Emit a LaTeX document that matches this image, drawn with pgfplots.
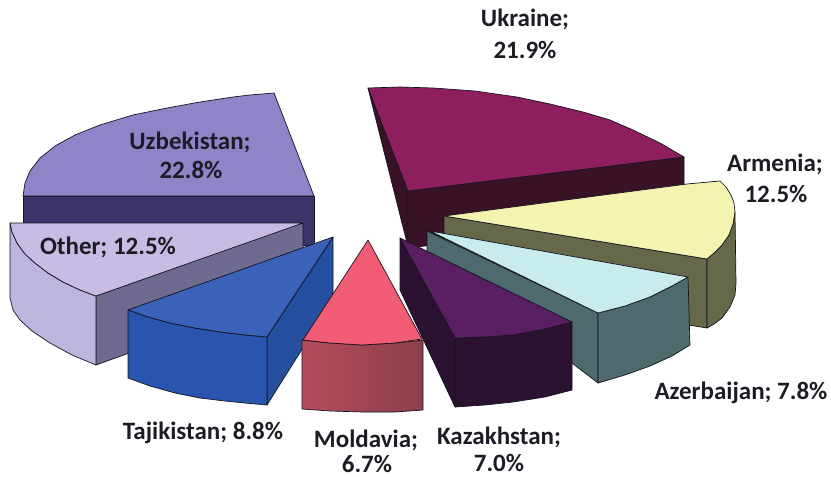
\documentclass[border=0pt]{standalone}
\usepackage{pgfplots}
\pgfplotsset{compat=1.18}
\usepackage{fontspec}
\setmainfont{Carlito}
\definecolor{edge}{HTML}{15131F}
\definecolor{uzt}{HTML}{8F84C8}\definecolor{uzs}{HTML}{3A3468}
\definecolor{ukt}{HTML}{8E1F5E}\definecolor{uks}{HTML}{3A1226}
\definecolor{art}{HTML}{F2F4B0}\definecolor{ars}{HTML}{66684A}
\definecolor{azt}{HTML}{C8ECEC}\definecolor{azs}{HTML}{4E6A6C}
\definecolor{kzt}{HTML}{5A1E62}\definecolor{kzs}{HTML}{2B1230}
\definecolor{mdt}{HTML}{F25C75}\definecolor{mdl}{HTML}{B54C5C}\definecolor{mdr}{HTML}{8B3F4A}
\definecolor{tjt}{HTML}{3A62B8}\definecolor{tjf}{HTML}{2A55AE}\definecolor{tjs}{HTML}{24509F}
\definecolor{ott}{HTML}{C8BCE4}\definecolor{otf}{HTML}{BEB4E0}\definecolor{ots}{HTML}{6E6A90}
\definecolor{lab}{HTML}{1C1C24}
\tikzset{lbl/.style={font=\fontsize{25}{28}\selectfont\bfseries,text=lab,inner sep=0pt,anchor=center}}
\begin{document}
\begin{tikzpicture}
\begin{axis}[hide axis,scale only axis,width=831pt,height=477pt,
  xmin=0,xmax=831,ymin=0,ymax=477,y dir=reverse,clip=false,
  every axis plot/.append style={no markers,draw=edge,line width=0.7pt,line join=round}]
% Uzbekistan
\addplot[fill=uzs] coordinates {(23,196)(314,196)(314,245)(23,245)} --cycle;
\addplot[fill=uzt] coordinates {(274,93)(250,95)(233,97)(200,102)(167,108)(133,115)(100,125)(75,135)(55,146)(40,158)(30,171)(25,183)(23,196)(314,196)} --cycle;
% Ukraine
\addplot[fill=uks] coordinates {(368,88)(408,191)(408,247)(405,235)} --cycle;
\addplot[fill=uks] coordinates {(408,191)(684,157)(684,215)(408,248)} --cycle;
\addplot[fill=ukt] coordinates {(368,88)(400,87)(433,88)(475,91)(517,97)(550,104)(583,112)(610,120)(633,130)(660,143)(684,157)(408,191)} --cycle;
% Armenia
\addplot[fill=ars] coordinates {(444,216)(707,259)(707,328)(444,285)} --cycle;
\addplot[fill=ars] coordinates {(707,259)(714,253)(722,245)(729,235)(733,224)(735,212)(736,283)(735,295)(730,307)(722,318)(714,324)(707,328)} --cycle;
\addplot[fill=art] coordinates {(444,216)(687,184)(720,181)(726,187)(731,195)(734,203)(735,212)(733,224)(729,235)(722,245)(714,253)(707,259)} --cycle;
% Azerbaijan
\addplot[fill=azs] coordinates {(427,231)(598,313)(598,383)(427,252)} --cycle;
\addplot[fill=azs] coordinates {(598,313)(625,306)(650,297)(672,286)(688,277)(690,345)(672,356)(650,366)(625,375)(598,383)} --cycle;
\addplot[fill=azt] coordinates {(430,231)(598,313)(625,306)(650,297)(672,286)(688,277)} --cycle;
% Other
\addplot[fill=ots] coordinates {(96,296)(298,224)(303,223)(303,290)(96,365)} --cycle;
\addplot[fill=otf] coordinates {(10,223)(12,232)(17,243)(25,254)(35,263)(48,273)(63,282)(80,290)(96,296)(96,365)(72,355)(50,343)(32,331)(20,320)(13,310)(10,298)} --cycle;
\addplot[fill=ott] coordinates {(10,223)(303,223)(96,296)(80,290)(63,282)(48,273)(35,263)(25,254)(17,243)(12,232)} --cycle;
% Tajikistan
\addplot[fill=tjs] coordinates {(267,337)(333,237)(333,300)(267,405)} --cycle;
\addplot[fill=tjf] coordinates {(128,310)(148,317)(170,323)(195,328)(220,332)(245,335)(267,337)(267,405)(245,403)(225,401)(200,398)(175,393)(150,386)(128,378)} --cycle;
\addplot[fill=tjt] coordinates {(333,237)(128,310)(148,317)(170,323)(195,328)(220,332)(245,335)(267,337)} --cycle;
% Kazakhstan
\addplot[fill=kzs] coordinates {(400,238)(455,338)(455,407)(400,290)} --cycle;
\addplot[fill=kzs] coordinates {(455,338)(485,337)(513,335)(545,329)(572,322)(572,390)(545,397)(513,402)(485,405)(455,407)} --cycle;
\addplot[fill=kzt] coordinates {(400,238)(455,338)(485,337)(513,335)(545,329)(572,322)} --cycle;
% Moldavia
\addplot[left color=mdl,right color=mdr] coordinates {(302,340)(330,343)(362,345)(395,343)(423,340)(423,410)(395,412)(363,412)(330,411)(302,409)} --cycle;
\addplot[fill=mdt] coordinates {(368,240)(303,340)(330,343)(362,345)(395,343)(422,339)} --cycle;
% labels
\node[lbl] at (axis cs:525,19) {Ukraine;};
\node[lbl] at (axis cs:525,50) {21.9\%};
\node[lbl] at (axis cs:775,164) {Armenia;};
\node[lbl] at (axis cs:776,194) {12.5\%};
\node[lbl] at (axis cs:741,393) {Azerbaijan; 7.8\%};
\node[lbl] at (axis cs:499,437) {Kazakhstan;};
\node[lbl] at (axis cs:499,463) {7.0\%};
\node[lbl] at (axis cs:366,440) {Moldavia;};
\node[lbl] at (axis cs:367,464) {6.7\%};
\node[lbl] at (axis cs:203,433) {Tajikistan; 8.8\%};
\node[lbl] at (axis cs:108,247) {Other; 12.5\%};
\node[lbl] at (axis cs:190,142) {Uzbekistan;};
\node[lbl] at (axis cs:191,170) {22.8\%};
\end{axis}
\pgfresetboundingbox
\path[use as bounding box] (0,0) rectangle (831pt,477pt);
\end{tikzpicture}
\end{document}
